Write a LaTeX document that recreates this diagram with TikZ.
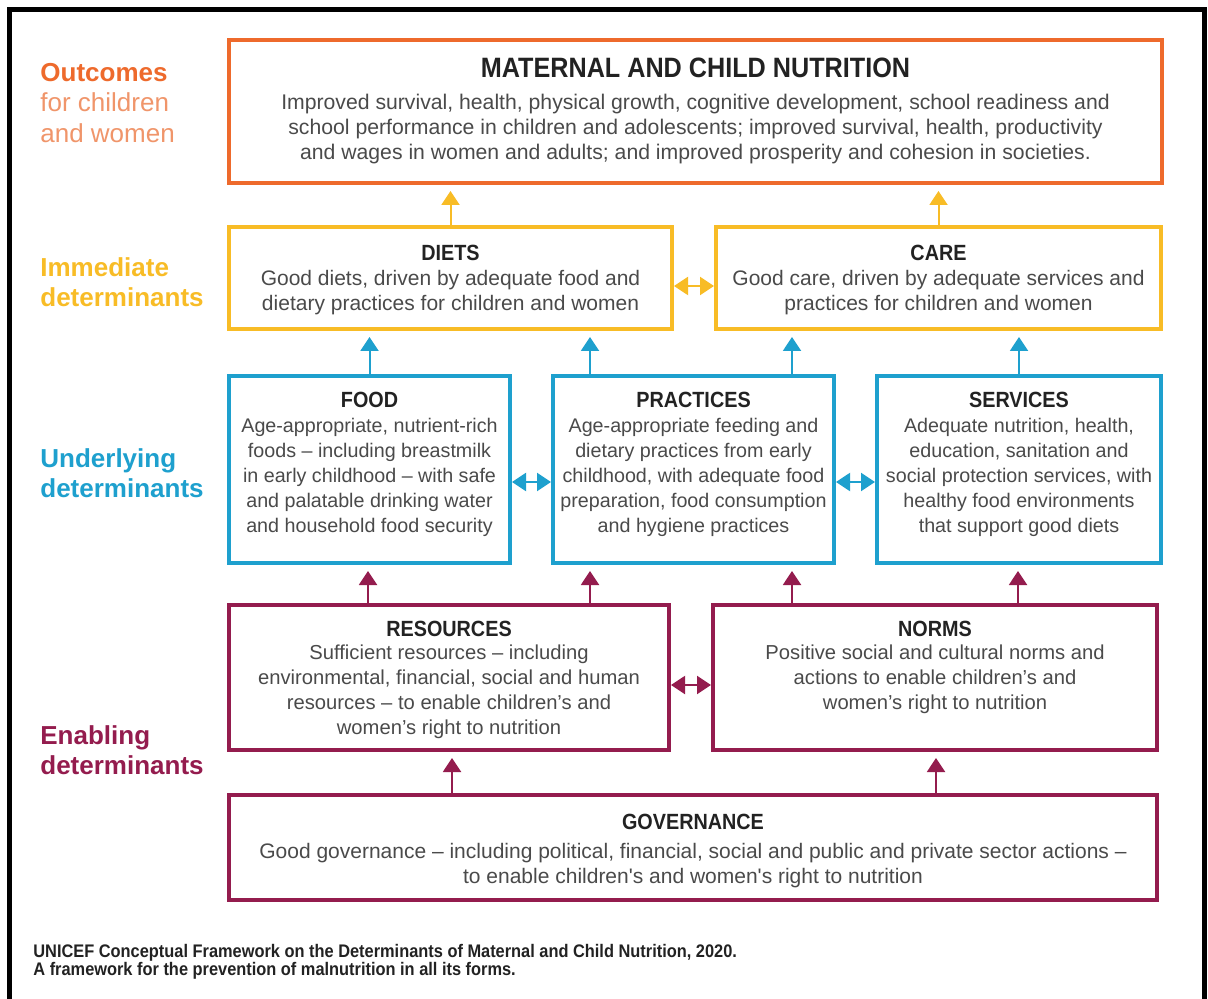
\documentclass[tikz,border=0pt]{standalone}
\usepackage{fontspec}
\setmainfont{Liberation Sans}
\newfontfamily\condfont[FakeStretch=0.9]{Liberation Sans}
\usetikzlibrary{arrows.meta,fit}

\definecolor{uorange}{HTML}{EE6A2C}
\definecolor{ulightorange}{HTML}{F0956A}
\definecolor{uyellow}{HTML}{F8BC26}
\definecolor{ublue}{HTML}{1EA0CE}
\definecolor{upurple}{HTML}{941C4E}
\definecolor{bodygray}{HTML}{4A4A4A}
\definecolor{titleblack}{HTML}{222222}

\newcommand{\ttl}[1]{{\condfont\bfseries\fontsize{11}{12.5}\selectfont\color{titleblack}#1}}
\newcommand{\bigttl}[1]{{\condfont\bfseries\fontsize{14}{12.5}\selectfont\color{titleblack}#1}}

\tikzset{
  box/.style={draw=#1, line width=2pt, inner sep=0pt},
  body/.style={align=center, inner sep=0pt, anchor=north, text=bodygray,
    font=\fontsize{#1}{12.5}\selectfont},
  level/.style={align=left, inner sep=0pt, anchor=north west, text=#1,
    font=\bfseries\fontsize{13}{15.2}\selectfont},
  tip/.tip={Triangle[width=9pt,length=7pt]},
  up/.style={-tip, line width=1pt, draw=#1, fill=#1, shorten >=3pt},
  both/.style={tip-tip, line width=1pt, draw=#1, fill=#1},
}

\begin{document}
\begin{tikzpicture}[x=0.5pt,y=-0.5pt]
\useasboundingbox (0,0) rectangle (1208,999);
\fill[white] (0,0) rectangle (1208,999);

% frame
\draw[line width=2.5pt] (9,1030) -- (9,10) -- (1204,10) -- (1204,1030);

% boxes
\node[box=uorange, fit={(229,40)(1162,183)}] (outcome) {};
\node[box=uyellow, fit={(229,227)(672,329)}] (diets) {};
\node[box=uyellow, fit={(716,227)(1161,329)}] (care) {};
\node[box=ublue, fit={(229,376)(510,563)}] (food) {};
\node[box=ublue, fit={(553,376)(834,563)}] (practices) {};
\node[box=ublue, fit={(877,376)(1161,563)}] (services) {};
\node[box=upurple, fit={(229,605)(669,750)}] (resources) {};
\node[box=upurple, fit={(713,605)(1157,750)}] (norms) {};
\node[box=upurple, fit={(229,795)(1157,900)}] (governance) {};

% box texts
\node[body=10.6] (toutcome) at (695.5,58) {\bigttl{MATERNAL AND CHILD NUTRITION}\\[3.3pt]
  Improved survival, health, physical growth, cognitive development, school readiness and\\
  school performance in children and adolescents; improved survival, health, productivity\\
  and wages in women and adults; and improved prosperity and cohesion in societies.};
\node[body=10.5] (tdiets) at (450.5,244.5) {\ttl{DIETS}\\
  Good diets, driven by adequate food and\\
  dietary practices for children and women};
\node[body=10.5] (tcare) at (938.5,244.5) {\ttl{CARE}\\
  Good care, driven by adequate services and\\
  practices for children and women};
\node[body=9.85] (tfood) at (369.5,391.5) {\ttl{FOOD}\\
  Age-appropriate, nutrient-rich\\
  foods – including breastmilk\\
  in early childhood – with safe\\
  and palatable drinking water\\
  and household food security};
\node[body=9.85] (tpractices) at (693.5,391.5) {\ttl{PRACTICES}\\
  Age-appropriate feeding and\\
  dietary practices from early\\
  childhood, with adequate food\\
  preparation, food consumption\\
  and hygiene practices};
\node[body=9.85] (tservices) at (1019,391.5) {\ttl{SERVICES}\\
  Adequate nutrition, health,\\
  education, sanitation and\\
  social protection services, with\\
  healthy food environments\\
  that support good diets};
\node[body=10.1] (tresources) at (449,620.5) {\ttl{RESOURCES}\\[-0.8pt]
  Sufficient resources – including\\
  environmental, financial, social and human\\
  resources – to enable children’s and\\
  women’s right to nutrition};
\node[body=10.1] (tnorms) at (935,620.5) {\ttl{NORMS}\\[-0.8pt]
  Positive social and cultural norms and\\
  actions to enable children’s and\\
  women’s right to nutrition};
\node[body=10.5] (tgovernance) at (693,813.5) {\ttl{GOVERNANCE}\\[2pt]
  Good governance – including political, financial, social and public and private sector actions –\\
  to enable children\textquotesingle s and women\textquotesingle s right to nutrition};

% level labels
\node[level=uorange] (loutcome) at (40,63) {Outcomes\\
  {\mdseries\color{ulightorange}for children}\\
  {\mdseries\color{ulightorange}and women}};
\node[level=uyellow] (limmediate) at (40,257) {Immediate\\determinants};
\node[level=ublue] (lunderlying) at (40,448) {Underlying\\determinants};
\node[level=upurple] (lenabling) at (40,725) {Enabling\\determinants};

% caption
\node[align=left, inner sep=0pt, anchor=north west, text=titleblack,
  font=\condfont\bfseries\fontsize{9.1}{9}\selectfont] (caption) at (33,944)
  {UNICEF Conceptual Framework on the Determinants of Maternal and Child Nutrition, 2020.\\
   A framework for the prevention of malnutrition in all its forms.};

% immediate -> outcome
\draw[up=uyellow] (diets.north) -- (diets.north |- outcome.south);
\draw[up=uyellow] (care.north) -- (care.north |- outcome.south);
\draw[both=uyellow] ([yshift=-4pt]diets.east) -- ([yshift=-4pt]diets.east -| care.west);

% underlying -> immediate
\draw[up=ublue] (food.north) -- (food.north |- diets.south);
\draw[up=ublue] ([xshift=-51.75pt]practices.north) -- ([xshift=-51.75pt]practices.north |- diets.south);
\draw[up=ublue] ([xshift=49.25pt]practices.north) -- ([xshift=49.25pt]practices.north |- care.south);
\draw[up=ublue] (services.north) -- (services.north |- care.south);
\draw[both=ublue] ([yshift=-6.25pt]food.east) -- ([yshift=-6.25pt]food.east -| practices.west);
\draw[both=ublue] ([yshift=-6.25pt]practices.east) -- ([yshift=-6.25pt]practices.east -| services.west);

% enabling -> underlying
\draw[up=upurple] ([xshift=-40.5pt]resources.north) -- ([xshift=-40.5pt]resources.north |- food.south);
\draw[up=upurple] ([xshift=70.5pt]resources.north) -- ([xshift=70.5pt]resources.north |- practices.south);
\draw[up=upurple] ([xshift=-71.5pt]norms.north) -- ([xshift=-71.5pt]norms.north |- practices.south);
\draw[up=upurple] ([xshift=41.5pt]norms.north) -- ([xshift=41.5pt]norms.north |- services.south);
\draw[both=upurple] ([yshift=-3.75pt]resources.east) -- ([yshift=-3.75pt]resources.east -| norms.west);

% governance -> resources, norms
\draw[up=upurple] ([xshift=-120.5pt]governance.north) -- ([xshift=-120.5pt]governance.north |- resources.south);
\draw[up=upurple] ([xshift=121.5pt]governance.north) -- ([xshift=121.5pt]governance.north |- norms.south);
\end{tikzpicture}
\end{document}
